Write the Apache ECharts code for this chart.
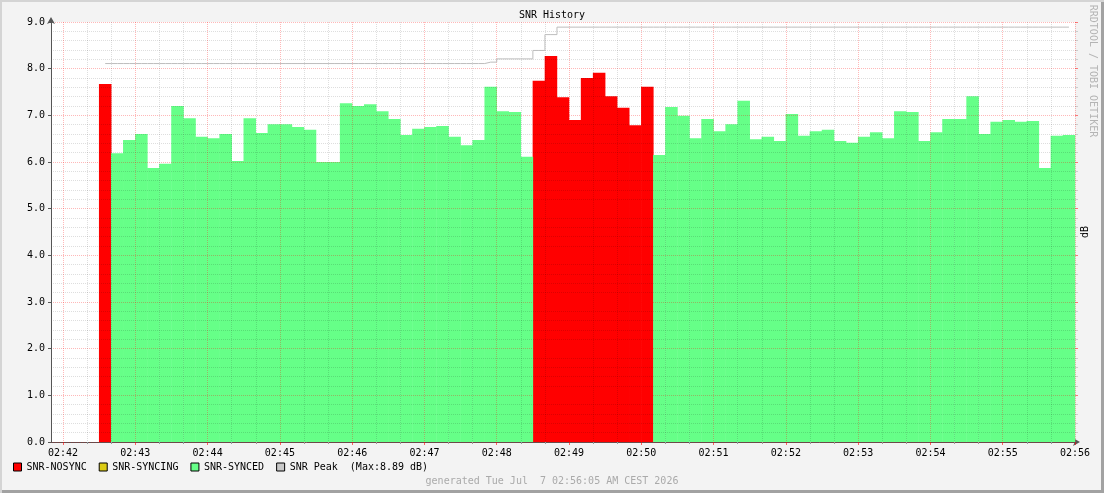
<!DOCTYPE html>
<html>
<head>
<meta charset="utf-8">
<title>SNR History</title>
<script src="https://cdn.jsdelivr.net/npm/echarts@6/dist/echarts.min.js"></script>
<style>
  body { margin: 0; background: #f3f3f3; }
  #wrap { position: relative; width: 1104px; height: 493px; }
  #chart { width: 1104px; height: 493px; }
  #frame {
    position: absolute; left: 0; top: 0; width: 1104px; height: 493px; pointer-events: none;
    box-shadow: inset 2px 2px 0 #d4d4d4, inset -3px -3px 0 #a2a2a2;
  }
</style>
</head>
<body>
<div id="wrap">
  <div id="chart"></div>
  <div id="frame"></div>
</div>
<script>
// seconds relative to 02:42:00, one sample every 10 s starting 02:42:30
const startSec = 30
const stepSec = 10
const minuteLabels = ['02:42','02:43','02:44','02:45','02:46','02:47','02:48',
  '02:49','02:50','02:51','02:52','02:53','02:54','02:55','02:56']

const snrValues = [
  7.67, 6.19, 6.47, 6.60, 5.87, 5.96, 7.20, 6.94, 6.54, 6.51,
  6.60, 6.02, 6.94, 6.62, 6.81, 6.81, 6.75, 6.69, 6.00, 6.00,
  7.26, 7.20, 7.24, 7.09, 6.92, 6.58, 6.71, 6.75, 6.77, 6.54,
  6.36, 6.47, 7.61, 7.09, 7.07, 6.11, 7.74, 8.27, 7.39, 6.90,
  7.80, 7.91, 7.41, 7.16, 6.79, 7.61, 6.15, 7.18, 6.99, 6.51,
  6.92, 6.66, 6.81, 7.31, 6.49, 6.54, 6.45, 7.03, 6.56, 6.66,
  6.69, 6.45, 6.41, 6.54, 6.64, 6.51, 7.09, 7.07, 6.45, 6.64,
  6.92, 6.92, 7.41, 6.60, 6.86, 6.90, 6.86, 6.88, 5.87, 6.56,
  6.58
]

// 0 = NOSYNC, 1 = SYNCING, 2 = SYNCED
const syncState = [
  0, 2, 2, 2, 2, 2, 2, 2, 2, 2,
  2, 2, 2, 2, 2, 2, 2, 2, 2, 2,
  2, 2, 2, 2, 2, 2, 2, 2, 2, 2,
  2, 2, 2, 2, 2, 2, 0, 0, 0, 0,
  0, 0, 0, 0, 0, 0, 2, 2, 2, 2,
  2, 2, 2, 2, 2, 2, 2, 2, 2, 2,
  2, 2, 2, 2, 2, 2, 2, 2, 2, 2,
  2, 2, 2, 2, 2, 2, 2, 2, 2, 2,
  2
]

const snrPeak = [
  8.11, 8.11, 8.11, 8.11, 8.11, 8.11, 8.11, 8.11, 8.11, 8.11,
  8.11, 8.11, 8.11, 8.11, 8.11, 8.11, 8.11, 8.11, 8.11, 8.11,
  8.11, 8.11, 8.11, 8.11, 8.11, 8.11, 8.11, 8.11, 8.11, 8.11,
  8.11, 8.11, 8.14, 8.21, 8.21, 8.21, 8.39, 8.73, 8.89, 8.89,
  8.89, 8.89, 8.89, 8.89, 8.89, 8.89, 8.89, 8.89, 8.89, 8.89,
  8.89, 8.89, 8.89, 8.89, 8.89, 8.89, 8.89, 8.89, 8.89, 8.89,
  8.89, 8.89, 8.89, 8.89, 8.89, 8.89, 8.89, 8.89, 8.89, 8.89,
  8.89, 8.89, 8.89, 8.89, 8.89, 8.89, 8.89, 8.89, 8.89, 8.89,
  8.89
]

const stateNames = ['SNR-NOSYNC', 'SNR-SYNCING', 'SNR-SYNCED']
const stateColors = ['#ff0000', '#dccc14', '#66ff88']

const mono = 'DejaVu Sans Mono'
const gridLeft = 51, gridRight = 29
const xMin = -10, xMax = 840
const plotW = 1104 - gridLeft - gridRight
const minorGrid = 'rgba(0,0,0,0.13)'
const majorGrid = 'rgba(255,0,0,0.28)'

// sample centre on the time axis
const centre = i => startSec + i * stepSec + stepSec / 2

const stateSeries = stateNames.map((name, s) => ({
  name,
  type: 'bar',
  xAxisIndex: 0,
  yAxisIndex: 0,
  barWidth: '104%',   // slight overlap so neighbouring steps have no seam
  barGap: '-100%',
  itemStyle: { color: stateColors[s] },
  data: snrValues.map((v, i) => [centre(i), v]).filter((d, i) => syncState[i] === s)
}))

const peakMax = Math.max(...snrPeak)

const chart = echarts.init(document.getElementById('chart'))
chart.setOption({
  animation: false,
  backgroundColor: '#f3f3f3',
  textStyle: { fontFamily: mono },
  title: {
    text: 'SNR History',
    left: 'center',
    top: 10,
    padding: 0,
    textStyle: { fontFamily: mono, fontSize: 10, fontWeight: 'normal', color: '#000' }
  },
  legend: {
    left: 13,
    top: 462,
    padding: 0,
    itemGap: 12,
    itemWidth: 8,
    itemHeight: 8,
    icon: 'rect',
    itemStyle: { borderColor: '#000', borderWidth: 1 },
    textStyle: { fontFamily: mono, fontSize: 10, color: '#000' },
    data: [...stateNames, 'SNR Peak'],
    formatter: name => name === 'SNR Peak' ? name + '  (Max:' + peakMax.toFixed(2) + ' dB)' : name
  },
  grid: [
    { left: gridLeft, right: gridRight, top: 22, bottom: 51, show: true, backgroundColor: '#fff', borderWidth: 0 },
    { left: gridLeft + plotW * (0 - xMin) / (xMax - xMin), right: gridRight, top: 22, bottom: 51 }
  ],
  xAxis: [
    {
      type: 'value', gridIndex: 0, min: xMin, max: xMax,
      axisLine: { show: true, onZero: false, lineStyle: { color: '#555' }, symbol: ['none', 'arrow'], symbolSize: [6, 7], symbolOffset: [0, 5] },
      axisTick: { show: false },
      axisLabel: { show: false },
      splitLine: { show: false }
    },
    {
      type: 'value', gridIndex: 1, min: 0, max: xMax, interval: 60, z: 3,
      axisLine: { show: false },
      axisTick: { show: true, length: 3, lineStyle: { color: 'rgba(255,0,0,0.6)' } },
      minorTick: { show: true, splitNumber: 3, length: 2, lineStyle: { color: '#999' } },
      axisLabel: {
        margin: 6, fontFamily: mono, fontSize: 10, color: '#000',
        formatter: v => minuteLabels[Math.round(v / 60)]
      },
      splitLine: { show: true, lineStyle: { color: majorGrid, type: [1, 1] } },
      minorSplitLine: { show: true, lineStyle: { color: minorGrid, type: [1, 1] } }
    }
  ],
  yAxis: [
    {
      type: 'value', gridIndex: 0, min: 0, max: 9, interval: 1, z: 3,
      axisLine: { show: true, onZero: false, lineStyle: { color: '#555' }, symbol: ['none', 'arrow'], symbolSize: [6, 7], symbolOffset: [0, 5] },
      axisTick: { show: true, length: 3, lineStyle: { color: '#555' } },
      minorTick: { show: false, splitNumber: 5 },
      axisLabel: { margin: 6, fontFamily: mono, fontSize: 10, color: '#000', formatter: v => v.toFixed(1) },
      splitLine: { show: true, lineStyle: { color: majorGrid, type: [1, 1] } },
      minorSplitLine: { show: true, lineStyle: { color: minorGrid, type: [1, 1] } }
    },
    {
      type: 'value', gridIndex: 0, position: 'right', min: 0, max: 9, interval: 1,
      axisLine: { show: false, onZero: false },
      axisTick: { show: true, length: 3, lineStyle: { color: 'rgba(255,0,0,0.5)' } },
      minorTick: { show: true, splitNumber: 5, length: 3, lineStyle: { color: '#ccc' } },
      axisLabel: { show: false },
      splitLine: { show: false }
    },
    { type: 'value', gridIndex: 1, min: 0, max: 9, show: false }
  ],
  series: [
    ...stateSeries,
    {
      name: 'SNR Peak',
      type: 'line',
      xAxisIndex: 0,
      yAxisIndex: 0,
      step: 'middle',
      symbol: 'none',
      itemStyle: { color: '#c8c8c8' },
      lineStyle: { color: '#bdbdbd', width: 1 },
      z: 4,
      data: snrPeak.map((v, i) => [centre(i), v])
    }
  ],
  graphic: [
    {
      type: 'text', x: 1093, y: 71, rotation: -Math.PI / 2, silent: true,
      style: { text: 'RRDTOOL / TOBI OETIKER', fill: '#b4b4b4', font: '10px "DejaVu Sans Mono"', align: 'center', verticalAlign: 'middle' }
    },
    {
      type: 'text', x: 1085, y: 232, rotation: Math.PI / 2, silent: true,
      style: { text: 'dB', fill: '#000', font: '10px "DejaVu Sans Mono"', align: 'center', verticalAlign: 'middle' }
    },
    {
      type: 'text', x: 552, y: 481, silent: true,
      style: { text: 'generated Tue Jul  7 02:56:05 AM CEST 2026', fill: '#aaa', font: '10px "DejaVu Sans Mono"', align: 'center', verticalAlign: 'middle' }
    }
  ]
})
</script>
</body>
</html>
